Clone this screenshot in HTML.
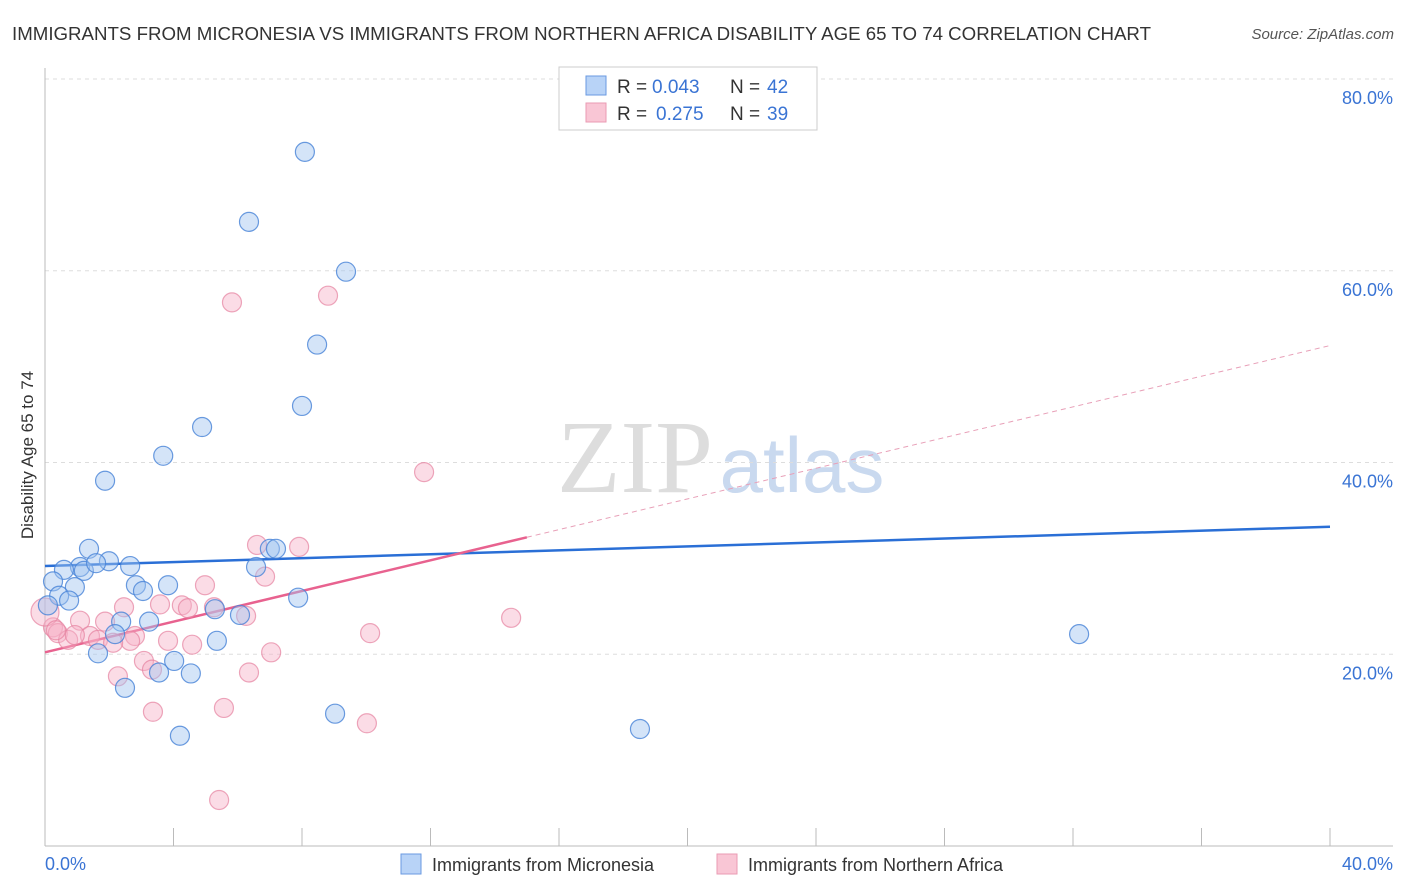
<!DOCTYPE html>
<html><head><meta charset="utf-8"><style>
body{margin:0;background:#fff;font-family:"Liberation Sans",sans-serif;}
</style></head><body>
<svg id="chart" width="1406" height="892" xmlns="http://www.w3.org/2000/svg" style="display:block">
<text x="12" y="40" font-size="18" fill="#333" textLength="1139" lengthAdjust="spacingAndGlyphs">IMMIGRANTS FROM MICRONESIA VS IMMIGRANTS FROM NORTHERN AFRICA DISABILITY AGE 65 TO 74 CORRELATION CHART</text>
<text x="1394" y="39" font-size="15" fill="#555" font-style="italic" text-anchor="end">Source: ZipAtlas.com</text>
<g>
<text x="635" y="492" font-size="104" font-family="Liberation Serif,serif" fill="#ddd" text-anchor="middle">ZIP</text>
<text x="802" y="492" font-size="78" fill="#c9d9ef" text-anchor="middle">atlas</text>
</g>
<text transform="translate(33,455) rotate(-90)" font-size="17" fill="#333" text-anchor="middle">Disability Age 65 to 74</text>
<g id="grid"></g>
<g id="axes"></g>
<g id="lines"></g>
<g id="points"></g>
<g>
<rect x="559" y="67" width="258" height="63" fill="#fff" stroke="#ccc"/>
<rect x="586" y="76" width="20" height="19" fill="#b8d3f7" stroke="#6a9ae0"/>
<rect x="586" y="103" width="20" height="19" fill="#f9c6d5" stroke="#ea9bb3"/>
<text x="617" y="93" font-size="19" fill="#333">R =</text>
<text x="652" y="93" font-size="19" fill="#3a74d4">0.043</text>
<text x="730" y="93" font-size="19" fill="#333">N =</text>
<text x="767" y="93" font-size="19" fill="#3a74d4">42</text>
<text x="617" y="120" font-size="19" fill="#333">R =</text>
<text x="656" y="120" font-size="19" fill="#3a74d4">0.275</text>
<text x="730" y="120" font-size="19" fill="#333">N =</text>
<text x="767" y="120" font-size="19" fill="#3a74d4">39</text>
</g>
<g>
<rect x="401" y="854" width="20" height="20" fill="#b8d3f7" stroke="#6a9ae0"/>
<text x="432" y="871" font-size="18" fill="#333">Immigrants from Micronesia</text>
<rect x="717" y="854" width="20" height="20" fill="#f9c6d5" stroke="#ea9bb3"/>
<text x="748" y="871" font-size="18" fill="#333">Immigrants from Northern Africa</text>
</g>
</svg>
<script>
const blueX=[8.09,6.35,9.37,8.47,8.00,4.89,3.68,1.87,1.37,1.99,1.09,1.21,0.59,1.59,2.65,0.25,0.93,0.44,0.75,0.09,2.83,3.05,3.83,6.57,7.00,7.19,5.29,7.88,6.07,3.24,2.37,2.18,1.65,5.35,4.02,3.55,4.54,2.49,9.03,4.20,18.52,32.19];
const blueY=[72.4,65.1,59.9,52.3,45.9,43.7,40.7,38.1,31.0,29.7,29.1,28.7,28.8,29.5,29.2,27.6,27.0,26.1,25.6,25.1,27.2,26.6,27.2,29.1,31.0,31.0,24.7,25.9,24.1,23.4,23.4,22.1,20.1,21.4,19.3,18.1,18.0,16.5,13.8,11.5,12.2,22.1];
const pinkX=[5.82,8.81,11.80,6.60,7.91,6.85,4.98,2.46,3.58,4.26,4.45,5.26,6.26,1.09,1.87,0.25,0,0.40,0.72,1.40,1.65,2.80,2.65,2.12,3.83,4.58,10.12,14.51,7.04,3.08,3.33,2.27,6.35,3.36,5.57,10.02,5.42,0.34,0.93];
const pinkY=[56.7,57.4,39.0,31.4,31.2,28.1,27.2,24.9,25.2,25.1,24.8,24.9,24.0,23.5,23.4,22.8,24.4,22.2,21.5,21.9,21.5,21.9,21.4,21.2,21.4,21.0,22.2,23.8,20.2,19.3,18.4,17.7,18.1,14.0,14.4,12.8,4.8,22.5,22.0];
const blueTrend=[29.2,33.3];
const pinkTrend=[20.2,52.2];
const pinkSolidEnd=15.0;
const yTicks=[20,40,60,80];
const yTickLabels=["20.0%","40.0%","60.0%","80.0%"];
const xTickVals=[0,4,8,12,16,20,24,28,32,36,40];
const xLabels=["0.0%","40.0%"];

const NS="http://www.w3.org/2000/svg";
const X=v=>45+v/40*1285;
const Y=v=>846-v/20*191.75;
function mk(tag,attrs,parent){const e=document.createElementNS(NS,tag);for(const k in attrs)e.setAttribute(k,attrs[k]);document.getElementById(parent).appendChild(e);return e;}

yTicks.forEach((t,i)=>{
  const l=mk('line',{x1:45,x2:1393,y1:Y(t),y2:Y(t),stroke:'#ddd','stroke-dasharray':'4,4'},'grid');
  
  
  const tx=mk('text',{x:1393,y:Y(t)+25,'font-size':18,fill:'#3a74d4','text-anchor':'end'},'grid');
  tx.textContent=yTickLabels[i];
  
  
});
const ya=mk('line',{x1:45,x2:45,y1:68,y2:846,stroke:'#bbb'},'axes');


const xa=mk('line',{x1:45,x2:1393,y1:846,y2:846,stroke:'#bbb'},'axes');


xTickVals.forEach(v=>{
  const t=mk('line',{x1:X(v),x2:X(v),y1:828,y2:846,stroke:'#bbb'},'axes');
  
  
});
const xl0=mk('text',{x:45,y:870,'font-size':18,fill:'#3a74d4'},'axes');
xl0.textContent=xLabels[0];


const xl1=mk('text',{x:1393,y:870,'font-size':18,fill:'#3a74d4','text-anchor':'end'},'axes');
xl1.textContent=xLabels[1];



function pts(xs,ys,fill,stroke,name){
  xs.forEach((x,i)=>{
    const c=mk('circle',{cx:X(x),cy:Y(ys[i]),r:(name==='pink-point'&&x===0)?14:9.5,fill:fill,stroke:stroke,'stroke-width':1.2},'points');
    
    
  });
}
pts(pinkX,pinkY,'rgba(246,178,200,0.45)','rgba(230,130,160,0.7)','pink-point');
pts(blueX,blueY,'rgba(160,196,240,0.45)','rgba(70,130,215,0.8)','blue-point');

const bl=mk('line',{x1:X(0),y1:Y(blueTrend[0]),x2:X(40),y2:Y(blueTrend[1]),stroke:'#2a6fd6','stroke-width':2.5},'lines');


const py=v=>pinkTrend[0]+(pinkTrend[1]-pinkTrend[0])*v/40;
const ps=mk('line',{x1:X(0),y1:Y(pinkTrend[0]),x2:X(pinkSolidEnd),y2:Y(py(pinkSolidEnd)),stroke:'#e8628f','stroke-width':2.5},'lines');


const pd=mk('line',{x1:X(pinkSolidEnd),y1:Y(py(pinkSolidEnd)),x2:X(40),y2:Y(pinkTrend[1]),stroke:'#e8a0b8','stroke-width':1,'stroke-dasharray':'5,4'},'lines');


</script>
</body></html>
